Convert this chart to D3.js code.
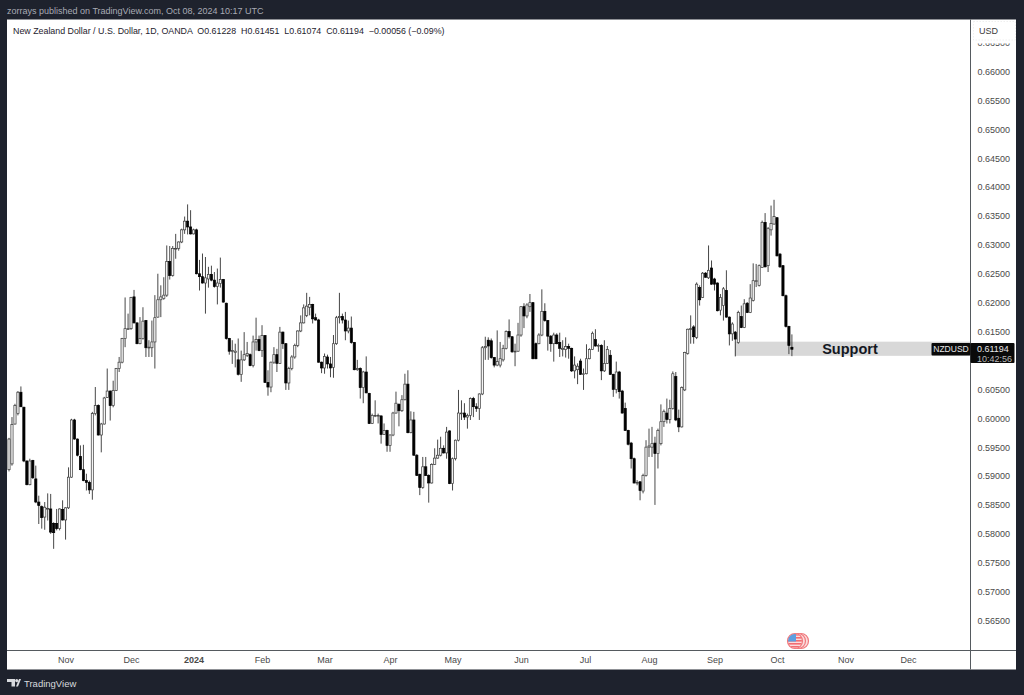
<!DOCTYPE html>
<html>
<head>
<meta charset="utf-8">
<style>
  html, body { margin: 0; padding: 0; background: #1e222d; overflow: hidden; }
  text { font-family: "Liberation Sans", Arial, sans-serif; }
</style>
</head>
<body>
<div id="chart-area"></div>
<script src="https://cdn.jsdelivr.net/npm/d3@7"></script>
<script>
// prices, one entry per daily bar
var opens = [
0.5911,0.5921,0.5990,0.6008,0.6045,0.6019,0.5926,0.5885,0.5927,0.5895,
0.5855,0.5847,0.5829,0.5843,0.5843,0.5818,0.5818,0.5809,0.5842,0.5824,
0.5845,0.5898,0.5997,0.5964,0.5934,0.5911,0.5892,0.5889,0.5876,0.6008,
0.6022,0.5971,0.5990,0.6036,0.6047,0.6022,0.6048,0.6086,0.6097,0.6138,
0.6155,0.6155,0.6210,0.6165,0.6129,0.6138,0.6169,0.6122,0.6122,0.6132,
0.6175,0.6205,0.6207,0.6213,0.6271,0.6247,0.6293,0.6294,0.6305,0.6326,
0.6341,0.6331,0.6319,0.6326,0.6250,0.6245,0.6234,0.6241,0.6249,0.6239,
0.6228,0.6233,0.6240,0.6199,0.6138,0.6116,0.6114,0.6101,0.6076,0.6101,
0.6109,0.6110,0.6091,0.6132,0.6136,0.6117,0.6143,0.6062,0.6054,0.6097,
0.6110,0.6095,0.6149,0.6129,0.6061,0.6086,0.6106,0.6126,0.6151,0.6165,
0.6178,0.6192,0.6197,0.6174,0.6170,0.6097,0.6087,0.6106,0.6094,0.6088,
0.6129,0.6174,0.6176,0.6170,0.6151,0.6156,0.6131,0.6084,0.6086,0.6053,
0.6080,0.6043,0.5991,0.6004,0.6005,0.6004,0.5972,0.5979,0.5953,0.5971,
0.6009,0.6024,0.6013,0.6032,0.6059,0.5975,0.5997,0.5936,0.5903,0.5880,
0.5916,0.5901,0.5888,0.5920,0.5931,0.5936,0.5948,0.5940,0.5978,0.5887,
0.5930,0.5962,0.6008,0.6009,0.6002,0.6005,0.6034,0.6020,0.6017,0.6042,
0.6122,0.6135,0.6134,0.6105,0.6092,0.6092,0.6101,0.6121,0.6150,0.6141,
0.6115,0.6116,0.6144,0.6193,0.6177,0.6193,0.6200,0.6129,0.6129,0.6144,
0.6185,0.6169,0.6142,0.6129,0.6144,0.6131,0.6119,0.6119,0.6124,0.6121,
0.6082,0.6084,0.6099,0.6076,0.6077,0.6103,0.6119,0.6136,0.6125,0.6126,
0.6082,0.6095,0.6109,0.6076,0.6050,0.6080,0.6047,0.6017,0.5979,0.5957,
0.5930,0.5888,0.5890,0.5874,0.5901,0.5950,0.5950,0.5957,0.5939,0.5956,
0.5994,0.6009,0.5998,0.6017,0.6072,0.6000,0.5985,0.6049,0.6112,0.6154,
0.6158,0.6140,0.6226,0.6209,0.6251,0.6243,0.6260,0.6241,0.6234,0.6187,
0.6195,0.6221,0.6175,0.6146,0.6149,0.6131,0.6176,0.6157,0.6199,0.6183,
0.6204,0.6237,0.6230,0.6261,0.6339,0.6264,0.6326,0.6336,0.6347,0.6284,
0.6264,0.6212,0.6159,0.61228];

var highs = [
0.5966,0.6002,0.6025,0.6047,0.6055,0.6020,0.5927,0.5930,0.5928,0.5918,
0.5866,0.5849,0.5855,0.5870,0.5869,0.5820,0.5843,0.5844,0.5858,0.5846,
0.5915,0.5999,0.5999,0.5965,0.5953,0.5954,0.5904,0.5892,0.6011,0.6054,
0.6024,0.5992,0.6037,0.6086,0.6048,0.6065,0.6087,0.6106,0.6139,0.6209,
0.6181,0.6210,0.6222,0.6166,0.6175,0.6192,0.6170,0.6135,0.6169,0.6213,
0.6250,0.6230,0.6244,0.6299,0.6298,0.6298,0.6319,0.6306,0.6328,0.6349,
0.6370,0.6360,0.6328,0.6328,0.6274,0.6285,0.6279,0.6262,0.6264,0.6253,
0.6259,0.6278,0.6241,0.6200,0.6139,0.6135,0.6129,0.6138,0.6117,0.6149,
0.6132,0.6112,0.6143,0.6174,0.6143,0.6161,0.6144,0.6083,0.6098,0.6123,
0.6120,0.6158,0.6150,0.6130,0.6089,0.6109,0.6129,0.6152,0.6178,0.6197,
0.6217,0.6210,0.6198,0.6181,0.6172,0.6098,0.6112,0.6110,0.6106,0.6144,
0.6177,0.6217,0.6181,0.6184,0.6169,0.6176,0.6132,0.6101,0.6088,0.6082,
0.6107,0.6044,0.6008,0.6031,0.6008,0.6005,0.5991,0.5980,0.5972,0.6011,
0.6046,0.6026,0.6040,0.6077,0.6083,0.6012,0.6011,0.5938,0.5904,0.5933,
0.5933,0.5903,0.5922,0.5948,0.5963,0.5968,0.5953,0.5985,0.5979,0.5932,
0.5963,0.6049,0.6031,0.6026,0.6008,0.6036,0.6037,0.6026,0.6043,0.6125,
0.6141,0.6140,0.6138,0.6106,0.6152,0.6132,0.6127,0.6152,0.6171,0.6142,
0.6129,0.6165,0.6194,0.6199,0.6199,0.6215,0.6201,0.6131,0.6147,0.6223,
0.6199,0.6170,0.6144,0.6148,0.6147,0.6148,0.6135,0.6140,0.6129,0.6122,
0.6107,0.6095,0.6103,0.6086,0.6128,0.6121,0.6150,0.6154,0.6129,0.6128,
0.6135,0.6125,0.6118,0.6077,0.6098,0.6082,0.6049,0.6027,0.5980,0.5959,
0.5932,0.5893,0.5891,0.5904,0.5962,0.5982,0.5985,0.5968,0.5982,0.6024,
0.6015,0.6034,0.6032,0.6081,0.6080,0.6015,0.6055,0.6115,0.6155,0.6178,
0.6161,0.6235,0.6230,0.6253,0.6253,0.6299,0.6273,0.6243,0.6235,0.6215,
0.6227,0.6256,0.6176,0.6166,0.6151,0.6186,0.6195,0.6206,0.6201,0.6232,
0.6268,0.6267,0.6266,0.6342,0.6355,0.6331,0.6368,0.6378,0.6348,0.6286,
0.6265,0.6214,0.6160,0.61451];

var lows = [
0.5908,0.5918,0.5989,0.6005,0.6019,0.5924,0.5884,0.5884,0.5895,0.5853,
0.5817,0.5809,0.5807,0.5823,0.5800,0.5774,0.5806,0.5806,0.5823,0.5790,
0.5843,0.5897,0.5963,0.5934,0.5910,0.5891,0.5875,0.5869,0.5859,0.6005,
0.5970,0.5941,0.5989,0.6035,0.5996,0.6019,0.6047,0.6080,0.6095,0.6123,
0.6153,0.6153,0.6164,0.6128,0.6128,0.6136,0.6106,0.6106,0.6106,0.6086,
0.6174,0.6175,0.6205,0.6210,0.6240,0.6245,0.6276,0.6290,0.6303,0.6319,
0.6318,0.6318,0.6318,0.6249,0.6221,0.6233,0.6181,0.6226,0.6237,0.6226,
0.6197,0.6226,0.6200,0.6136,0.6110,0.6094,0.6088,0.6074,0.6063,0.6099,
0.6106,0.6090,0.6088,0.6117,0.6116,0.6106,0.6061,0.6039,0.6045,0.6094,
0.6080,0.6094,0.6120,0.6049,0.6049,0.6083,0.6103,0.6123,0.6149,0.6164,
0.6175,0.6178,0.6164,0.6169,0.6096,0.6078,0.6077,0.6086,0.6071,0.6070,
0.6127,0.6164,0.6164,0.6135,0.6147,0.6129,0.6083,0.6082,0.6034,0.6026,
0.6043,0.5990,0.5990,0.6002,0.5991,0.5956,0.5971,0.5942,0.5942,0.5969,
0.6008,0.5986,0.6011,0.6031,0.5974,0.5974,0.5935,0.5900,0.5867,0.5878,
0.5900,0.5854,0.5887,0.5919,0.5930,0.5934,0.5939,0.5930,0.5886,0.5875,
0.5927,0.5960,0.5997,0.5997,0.5982,0.5997,0.6002,0.6011,0.5997,0.6040,
0.6101,0.6101,0.6103,0.6088,0.6090,0.6088,0.6098,0.6119,0.6138,0.6113,
0.6090,0.6115,0.6141,0.6156,0.6173,0.6184,0.6102,0.6102,0.6128,0.6142,
0.6167,0.6117,0.6115,0.6098,0.6128,0.6106,0.6107,0.6105,0.6103,0.6080,
0.6069,0.6059,0.6075,0.6049,0.6076,0.6102,0.6118,0.6124,0.6115,0.6066,
0.6080,0.6094,0.6075,0.6037,0.6043,0.6034,0.6008,0.5978,0.5953,0.5913,
0.5887,0.5884,0.5858,0.5870,0.5899,0.5933,0.5933,0.5850,0.5913,0.5953,
0.5985,0.5991,0.5991,0.6015,0.5995,0.5976,0.5984,0.6047,0.6110,0.6129,
0.6129,0.6137,0.6195,0.6208,0.6243,0.6241,0.6231,0.6221,0.6185,0.6178,
0.6169,0.6174,0.6126,0.6134,0.6107,0.6129,0.6156,0.6156,0.6182,0.6182,
0.6202,0.6227,0.6228,0.6260,0.6261,0.6253,0.6316,0.6335,0.6280,0.6260,
0.6211,0.6157,0.6111,0.61074];

var closes = [
0.5964,0.5989,0.6022,0.6045,0.6020,0.5926,0.5885,0.5926,0.5897,0.5855,
0.5849,0.5828,0.5846,0.5844,0.5803,0.5802,0.5809,0.5843,0.5824,0.5845,
0.5898,0.5997,0.5964,0.5936,0.5911,0.5892,0.5889,0.5876,0.6008,0.6022,
0.5971,0.5990,0.6035,0.6047,0.6022,0.6048,0.6086,0.6097,0.6138,0.6155,
0.6155,0.6209,0.6165,0.6129,0.6138,0.6168,0.6122,0.6123,0.6132,0.6174,
0.6205,0.6210,0.6213,0.6271,0.6247,0.6294,0.6294,0.6305,0.6326,0.6341,
0.6331,0.6319,0.6326,0.6250,0.6245,0.6234,0.6243,0.6249,0.6239,0.6228,
0.6234,0.6240,0.6201,0.6138,0.6116,0.6117,0.6116,0.6076,0.6101,0.6110,
0.6112,0.6091,0.6132,0.6136,0.6117,0.6143,0.6062,0.6054,0.6097,0.6110,
0.6095,0.6149,0.6129,0.6061,0.6086,0.6106,0.6126,0.6151,0.6165,0.6191,
0.6194,0.6197,0.6172,0.6170,0.6097,0.6087,0.6107,0.6094,0.6087,0.6129,
0.6174,0.6176,0.6170,0.6151,0.6156,0.6131,0.6084,0.6086,0.6053,0.6080,
0.6044,0.5991,0.6005,0.6005,0.6005,0.5972,0.5979,0.5953,0.5971,0.6009,
0.6026,0.6013,0.6032,0.6059,0.5975,0.5997,0.5936,0.5901,0.5880,0.5916,
0.5901,0.5888,0.5920,0.5931,0.5936,0.5948,0.5940,0.5976,0.5887,0.5930,
0.5962,0.6009,0.6009,0.6002,0.6005,0.6034,0.6020,0.6017,0.6042,0.6122,
0.6124,0.6125,0.6105,0.6092,0.6098,0.6103,0.6121,0.6150,0.6141,0.6115,
0.6116,0.6144,0.6193,0.6177,0.6196,0.6200,0.6103,0.6103,0.6144,0.6185,
0.6169,0.6142,0.6129,0.6144,0.6129,0.6121,0.6121,0.6124,0.6121,0.6082,
0.6092,0.6090,0.6076,0.6077,0.6103,0.6119,0.6147,0.6125,0.6126,0.6082,
0.6095,0.6119,0.6076,0.6050,0.6080,0.6046,0.6009,0.5979,0.5955,0.5930,
0.5888,0.5889,0.5875,0.5901,0.5950,0.5952,0.5956,0.5939,0.5979,0.5994,
0.6012,0.5998,0.6017,0.6077,0.5997,0.5985,0.6053,0.6114,0.6154,0.6155,
0.6141,0.6232,0.6205,0.6251,0.6244,0.6256,0.6232,0.6232,0.6186,0.6209,
0.6224,0.6175,0.6146,0.6163,0.6137,0.6183,0.6157,0.6198,0.6183,0.6208,
0.6238,0.6238,0.6264,0.6339,0.6262,0.6328,0.6337,0.6349,0.6281,0.6262,
0.6212,0.6159,0.6126,0.61194];

// time axis: bar index of each month label
var monthBars = [19, 41, 62, 85, 106, 128, 149, 172, 193.5, 215, 237, 258, 281, 302];
var monthLabels = ["Nov", "Dec", "2024", "Feb", "Mar", "Apr", "May", "Jun", "Jul", "Aug", "Sep", "Oct", "Nov", "Dec"];

// 0.61000 sits behind the last price tag in the reference, so it is left out
var priceTicks = [0.565, 0.57, 0.575, 0.58, 0.585, 0.59, 0.595, 0.6, 0.605, 0.615, 0.62, 0.625, 0.63, 0.635, 0.64, 0.645, 0.65, 0.655, 0.66, 0.665];

var supportZone = { top: 0.61325, bottom: 0.6108, startBar: 243.8, endBar: 323 };
var lastBar = { open: 0.61228, high: 0.61451, low: 0.61074, close: 0.61194 };

var pane = { left: 7, top: 19.5, right: 1016, bottom: 669.5, axisX: 970.5, axisY: 650.5 };

var svg = d3.select("#chart-area")
    .append("svg")
    .attr("width", 1024)
    .attr("height", 695)
    .style("display", "block");

svg.append("rect")
    .attr("width", 1024)
    .attr("height", 695)
    .attr("fill", "#1e222d");

svg.append("rect")
    .attr("x", pane.left)
    .attr("y", pane.top)
    .attr("width", pane.right - pane.left)
    .attr("height", pane.bottom - pane.top)
    .attr("fill", "#ffffff");

var x = d3.scaleLinear().domain([0, 323]).range([9, 970.5]);
var y = d3.scaleLinear().domain([0.565, 0.66]).range([620.5, 71.5]);

var defs = svg.append("defs");

defs.append("clipPath")
    .attr("id", "plot-clip")
    .append("rect")
    .attr("x", pane.left)
    .attr("y", pane.top)
    .attr("width", pane.axisX - pane.left)
    .attr("height", pane.axisY - pane.top);

// the reference is a soft screenshot, a touch of blur on the candles matches it
defs.append("filter")
    .attr("id", "soft")
    .append("feGaussianBlur")
    .attr("stdDeviation", 0.3);

var plot = svg.append("g").attr("clip-path", "url(#plot-clip)");

// support zone goes under the candles
plot.append("rect")
    .attr("x", x(supportZone.startBar))
    .attr("y", y(supportZone.top))
    .attr("width", x(supportZone.endBar) - x(supportZone.startBar))
    .attr("height", y(supportZone.bottom) - y(supportZone.top))
    .attr("fill", "#d8d8d8");

plot.append("text")
    .attr("x", 850)
    .attr("y", (y(supportZone.top) + y(supportZone.bottom)) / 2 + 5)
    .attr("text-anchor", "middle")
    .attr("font-size", "14.5px")
    .attr("font-weight", "bold")
    .attr("fill", "#131722")
    .text("Support");

var bars = opens.map((o, i) => ({ i: i, open: o, high: highs[i], low: lows[i], close: closes[i] }));

var candles = plot.append("g").attr("filter", "url(#soft)");

candles.selectAll(".wick")
    .data(bars)
    .enter()
    .append("line")
    .attr("class", "wick")
    .attr("x1", d => x(d.i))
    .attr("x2", d => x(d.i))
    .attr("y1", d => y(d.high))
    .attr("y2", d => y(d.low))
    .attr("stroke", "#333333")
    .attr("stroke-width", 0.9);

candles.selectAll(".body")
    .data(bars)
    .enter()
    .append("rect")
    .attr("class", "body")
    .attr("x", d => x(d.i) - 1.1)
    .attr("width", 2.2)
    .attr("y", d => y(Math.max(d.open, d.close)))
    .attr("height", d => Math.max(0.8, Math.abs(y(d.open) - y(d.close))))
    .attr("fill", d => d.close >= d.open ? "#f4f4f4" : "#000000")
    .attr("stroke", d => d.close >= d.open ? "#3c3c3c" : "#000000")
    .attr("stroke-width", 0.7);

// axes
var xAxis = d3.axisBottom(x)
    .tickValues(monthBars)
    .tickSize(0)
    .tickPadding(6)
    .tickFormat((d, i) => monthLabels[i]);

var yAxis = d3.axisRight(y)
    .tickValues(priceTicks)
    .tickSize(0)
    .tickPadding(7)
    .tickFormat(d3.format(".5f"));

var xAxisG = svg.append("g")
    .attr("class", "x-axis")
    .attr("transform", `translate(0,${pane.axisY})`)
    .call(xAxis);

var yAxisG = svg.append("g")
    .attr("class", "y-axis")
    .attr("transform", `translate(${pane.axisX},0)`)
    .call(yAxis);

xAxisG.select(".domain").remove();
yAxisG.select(".domain").remove();

xAxisG.selectAll("text")
    .attr("font-size", "9px")
    .attr("font-family", null)
    .attr("fill", "#4a4a4a")
    .attr("font-weight", (d, i) => monthLabels[i] === "2024" ? "bold" : "normal");

yAxisG.selectAll("text")
    .attr("font-size", "9px")
    .attr("font-family", null)
    .attr("fill", "#4a4a4a");

// pane separators
svg.append("line")
    .attr("x1", pane.left).attr("x2", pane.right)
    .attr("y1", pane.axisY).attr("y2", pane.axisY)
    .attr("stroke", "#555a5f");

svg.append("line")
    .attr("x1", pane.axisX).attr("x2", pane.axisX)
    .attr("y1", pane.top).attr("y2", pane.bottom)
    .attr("stroke", "#555a5f");

// USD box hides most of the top tick
svg.append("rect")
    .attr("x", pane.axisX + 1)
    .attr("y", pane.top + 1)
    .attr("width", 44)
    .attr("height", 23)
    .attr("fill", "#ffffff");

svg.append("rect")
    .attr("x", pane.axisX + 3)
    .attr("y", pane.top + 2)
    .attr("width", 42)
    .attr("height", 18.5)
    .attr("fill", "#ffffff")
    .attr("stroke", "#e4e4e4")
    .attr("stroke-width", 0.6)
    .attr("stroke-dasharray", "1.5,1.5");

svg.append("text")
    .attr("x", 979)
    .attr("y", 34)
    .attr("font-size", "9px")
    .attr("fill", "#3a3a3a")
    .text("USD");

// last price tags
var tagY = y(lastBar.close);

svg.append("rect")
    .attr("x", 931.5)
    .attr("y", 343)
    .attr("width", 39)
    .attr("height", 12.5)
    .attr("rx", 1)
    .attr("fill", "#0a0a0a");

svg.append("text")
    .attr("x", 951)
    .attr("y", tagY + 3)
    .attr("text-anchor", "middle")
    .attr("font-size", "8.5px")
    .attr("fill", "#e8e8e8")
    .text("NZDUSD");

svg.append("rect")
    .attr("x", pane.axisX)
    .attr("y", 343)
    .attr("width", 44)
    .attr("height", 20)
    .attr("rx", 1)
    .attr("fill", "#0a0a0a");

svg.append("text")
    .attr("x", 977)
    .attr("y", tagY + 3)
    .attr("font-size", "9px")
    .attr("fill", "#e8e8e8")
    .text(d3.format(".5f")(lastBar.close));

svg.append("text")
    .attr("x", 977)
    .attr("y", tagY + 12.5)
    .attr("font-size", "9px")
    .attr("fill", "#b8b8b8")
    .text("10:42:56");

// event marker on the time scale, three stacked US flag badges
var marker = svg.append("g").attr("transform", "translate(0,641)");

[801, 798, 795].forEach(cx => {
    marker.append("circle")
        .attr("cx", cx)
        .attr("r", 7.5)
        .attr("fill", "#fbdcdc")
        .attr("stroke", "#f0787c")
        .attr("stroke-width", 1.2);
});

defs.append("clipPath")
    .attr("id", "flag-clip")
    .append("circle")
    .attr("cx", 795)
    .attr("cy", 641)
    .attr("r", 7);

var flag = svg.append("g").attr("clip-path", "url(#flag-clip)");

d3.range(5).forEach(k => {
    flag.append("rect")
        .attr("x", 787)
        .attr("y", 634 + k * 3)
        .attr("width", 16)
        .attr("height", 1.6)
        .attr("fill", "#f26d72");
});

flag.append("rect")
    .attr("x", 787)
    .attr("y", 634)
    .attr("width", 9)
    .attr("height", 7.5)
    .attr("fill", "#5b9fe0");

// header and legend
svg.append("text")
    .attr("x", 7)
    .attr("y", 14)
    .attr("font-size", "9px")
    .attr("fill", "#a8abb4")
    .text("zorrays published on TradingView.com, Oct 08, 2024 10:17 UTC");

svg.append("text")
    .attr("x", 13)
    .attr("y", 33.5)
    .attr("font-size", "8.85px")
    .attr("fill", "#1e222d")
    .style("white-space", "pre")
    .text("New Zealand Dollar / U.S. Dollar, 1D, OANDA  O0.61228  H0.61451  L0.61074  C0.61194  \u22120.00056 (\u22120.09%)");

// footer logo
var logo = svg.append("g").attr("fill", "#d8dade");
logo.append("path").attr("d", "M7 679h8v7.5h-3.5v-4.5h-4.5z");
logo.append("circle").attr("cx", 16.7).attr("cy", 680.6).attr("r", 1.6);
logo.append("path").attr("d", "M19 679h2l-3 7.5h-2z");

svg.append("text")
    .attr("x", 24)
    .attr("y", 687)
    .attr("font-size", "9.5px")
    .attr("fill", "#d8dade")
    .text("TradingView");
</script>
</body>
</html>
